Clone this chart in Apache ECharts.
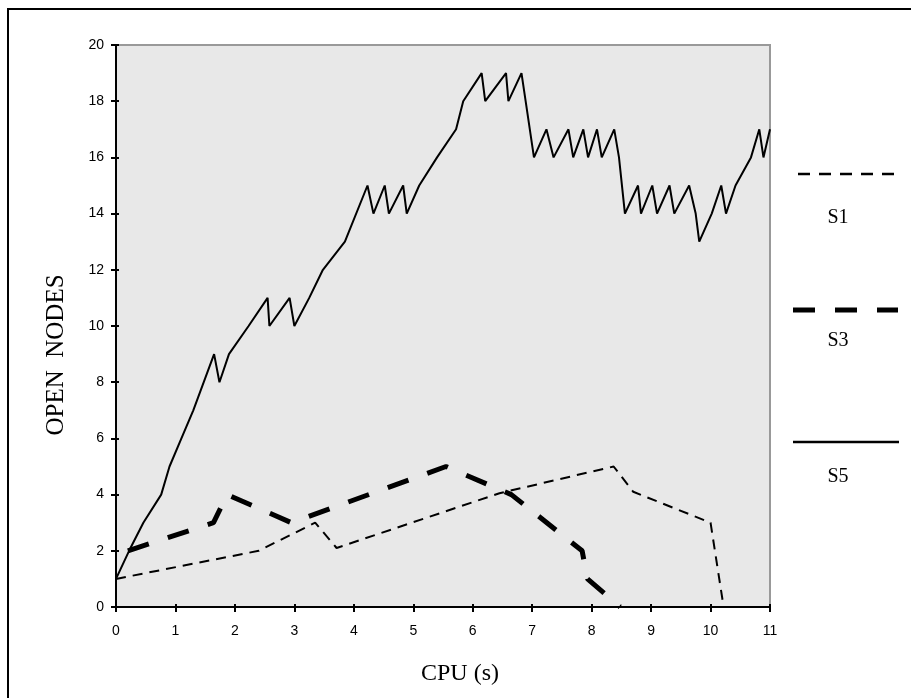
<!DOCTYPE html>
<html>
<head>
<meta charset="utf-8">
<script src="https://cdn.jsdelivr.net/npm/echarts@6/dist/echarts.min.js"></script>
<style>
  html, body { margin: 0; padding: 0; background: #fff; }
  #chart { width: 911px; height: 698px; }
</style>
</head>
<body>
<div id="chart"></div>
<script>
// CPU time (s) vs number of open nodes
var s1X = [0, 2.4, 3.35, 3.71, 6.45, 8.37, 8.7, 10.0, 10.22];
var s1Y = [1, 2, 3, 2.1, 4.05, 5, 4.1, 3, 0];

var s3X = [0.2, 1.64, 1.87, 2.95, 5.55, 6.65, 7.84, 7.93, 8.48];
var s3Y = [2, 3, 4, 3, 5, 4, 2, 1, 0];

var s5X = [0, 0.22, 0.46, 0.76, 0.9, 1.1, 1.3, 1.65, 1.74, 1.9, 2.23, 2.55, 2.58, 2.92, 3.0,
  3.25, 3.48, 3.85, 4.23, 4.33, 4.52, 4.59, 4.83, 4.89, 5.1, 5.4, 5.72, 5.84, 6.15, 6.21,
  6.56, 6.6, 6.82, 6.89, 7.03, 7.24, 7.36, 7.61, 7.69, 7.86, 7.94, 8.09, 8.17, 8.38, 8.46,
  8.56, 8.78, 8.83, 9.02, 9.1, 9.31, 9.39, 9.64, 9.75, 9.81, 10.02, 10.18, 10.26, 10.42,
  10.68, 10.82, 10.89, 11.0];
var s5Y = [1, 2, 3, 4, 5, 6, 7, 9, 8, 9, 10, 11, 10, 11, 10,
  11, 12, 13, 15, 14, 15, 14, 15, 14, 15, 16, 17, 18, 19, 18,
  19, 18, 19, 18, 16, 17, 16, 17, 16, 17, 16, 17, 16, 17, 16,
  14, 15, 14, 15, 14, 15, 14, 15, 14, 13, 14, 15, 14, 15,
  16, 17, 16, 17];

var seriesNames = ['S1', 'S3', 'S5'];

function pairs(xs, ys) {
  return xs.map(function (x, i) { return [x, ys[i]]; });
}

var myChart = echarts.init(document.getElementById('chart'));

var sans = '"Liberation Sans", Arial, sans-serif';
var serif = '"Liberation Serif", "Times New Roman", serif';

var tickLabel = { color: '#000', fontFamily: sans, fontSize: 14 };

var option = {
  animation: false,
  backgroundColor: '#fff',
  grid: {
    left: 116, right: 141, top: 45, bottom: 91,
    show: true,
    backgroundColor: '#e8e8e8',
    borderColor: '#999',
    borderWidth: 2
  },
  xAxis: [{
    type: 'value', min: 0, max: 11, interval: 1,
    axisLine: { lineStyle: { color: '#000', width: 2 } },
    axisTick: { show: true, length: 5, lineStyle: { color: '#000', width: 2 } },
    axisLabel: Object.assign({ margin: 17 }, tickLabel),
    splitLine: { show: false }
  }, {
    // inner half of the crossing ticks
    type: 'value', min: 0, max: 11, interval: 1, position: 'bottom',
    axisLine: { show: false },
    axisTick: { show: true, inside: true, length: 3, lineStyle: { color: '#000', width: 2 } },
    axisLabel: { show: false },
    splitLine: { show: false }
  }],
  yAxis: [{
    type: 'value', min: 0, max: 20, interval: 2,
    axisLine: { show: true, lineStyle: { color: '#000', width: 2 } },
    axisTick: { show: true, length: 5, lineStyle: { color: '#000', width: 2 } },
    axisLabel: Object.assign({ margin: 12 }, tickLabel),
    splitLine: { show: false }
  }, {
    type: 'value', min: 0, max: 20, interval: 2, position: 'left',
    axisLine: { show: false },
    axisTick: { show: true, inside: true, length: 3, lineStyle: { color: '#000', width: 2 } },
    axisLabel: { show: false },
    splitLine: { show: false }
  }],
  series: [{
    name: seriesNames[0], type: 'line', symbol: 'none', z: 2,
    data: pairs(s1X, s1Y),
    lineStyle: { color: '#000', width: 2, type: [10, 7] }
  }, {
    name: seriesNames[1], type: 'line', symbol: 'none', z: 3,
    data: pairs(s3X, s3Y),
    lineStyle: { color: '#000', width: 5, type: [22, 20] }
  }, {
    name: seriesNames[2], type: 'line', symbol: 'none', z: 4,
    data: pairs(s5X, s5Y),
    lineStyle: { color: '#000', width: 2 }
  }],
  graphic: [
    // page frame (only top and left edges are visible)
    { type: 'rect', shape: { x: 8, y: 9, width: 1000, height: 1000 },
      style: { fill: 'none', stroke: '#000', lineWidth: 2 }, silent: true },
    { type: 'text', x: 460, y: 674,
      style: { text: 'CPU (s)', font: '24px ' + serif, fill: '#000', textAlign: 'center', textVerticalAlign: 'middle' } },
    { type: 'text', x: 56, y: 355, rotation: Math.PI / 2,
      style: { text: 'OPEN  NODES', font: '25px ' + serif, fill: '#000', textAlign: 'center', textVerticalAlign: 'middle' } },
    // legend: sample line with the name underneath
    { type: 'line', shape: { x1: 798, y1: 174, x2: 897, y2: 174 },
      style: { stroke: '#000', lineWidth: 2.5, lineDash: [12, 9] } },
    { type: 'text', x: 838, y: 218,
      style: { text: seriesNames[0], font: '20px ' + serif, fill: '#000', textAlign: 'center', textVerticalAlign: 'middle' } },
    { type: 'line', shape: { x1: 793, y1: 310, x2: 898, y2: 310 },
      style: { stroke: '#000', lineWidth: 5, lineDash: [22, 20] } },
    { type: 'text', x: 838, y: 341,
      style: { text: seriesNames[1], font: '20px ' + serif, fill: '#000', textAlign: 'center', textVerticalAlign: 'middle' } },
    { type: 'line', shape: { x1: 793, y1: 442, x2: 899, y2: 442 },
      style: { stroke: '#000', lineWidth: 2.5 } },
    { type: 'text', x: 838, y: 477,
      style: { text: seriesNames[2], font: '20px ' + serif, fill: '#000', textAlign: 'center', textVerticalAlign: 'middle' } }
  ]
};

myChart.setOption(option);
</script>
</body>
</html>
